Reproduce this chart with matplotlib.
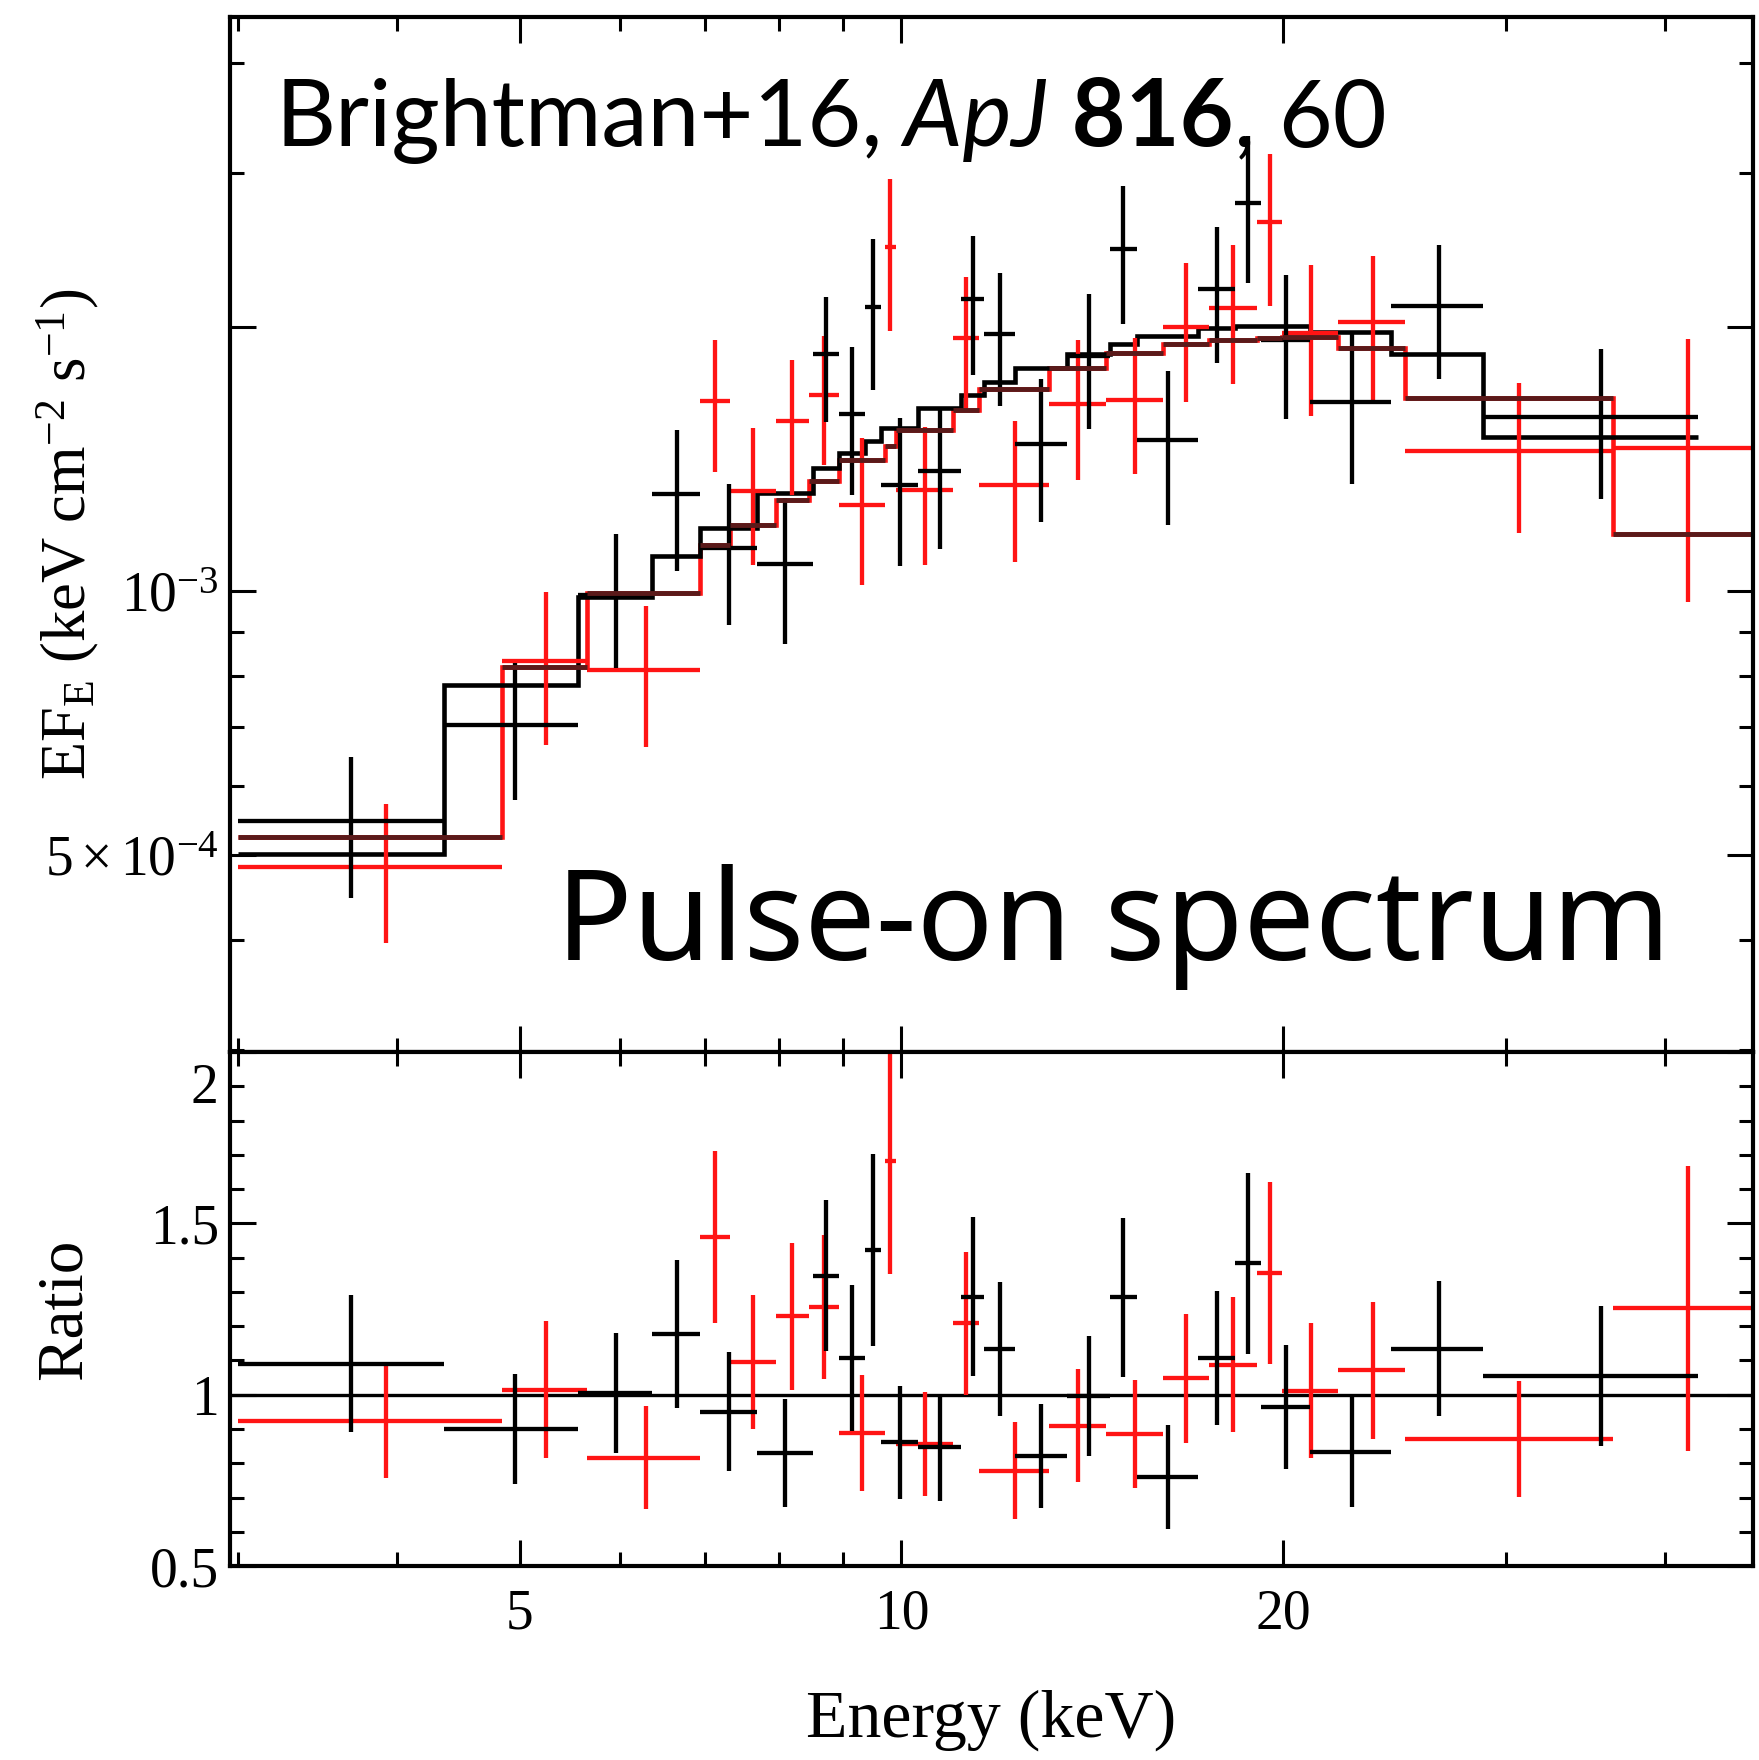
import numpy as np
import matplotlib
matplotlib.use('Agg')
import matplotlib.pyplot as plt
import matplotlib.transforms as mtransforms
from matplotlib.ticker import FixedLocator, FixedFormatter, NullFormatter, MultipleLocator

# black spectrum: bin edges (keV), model EF_E, data/model ratio and its error
black_edges = [3.0, 4.36, 5.56, 6.36, 6.94, 7.69, 8.51, 8.93, 9.36, 9.63, 10.31, 11.15, 11.62,
               12.29, 13.5, 14.6, 15.33, 17.13, 18.32, 19.2, 21.01, 24.34, 28.73, 42.5]
black_model = [5.02e-4, 7.82e-4, 9.85e-4, 1.098e-3, 1.18e-3, 1.295e-3, 1.382e-3, 1.438e-3,
               1.483e-3, 1.538e-3, 1.618e-3, 1.676e-3, 1.735e-3, 1.798e-3, 1.866e-3, 1.916e-3,
               1.958e-3, 1.997e-3, 2.006e-3, 2.006e-3, 1.974e-3, 1.866e-3, 1.50e-3]
black_ratio = [1.09, 0.90, 1.005, 1.177, 0.95, 0.83, 1.348, 1.108, 1.423, 0.861, 0.847, 1.286,
               1.134, 0.82, 0.995, 1.284, 0.76, 1.108, 1.384, 0.964, 0.833, 1.134, 1.054]
black_err = [0.20, 0.16, 0.175, 0.216, 0.174, 0.158, 0.22, 0.213, 0.28, 0.165, 0.156, 0.232,
             0.196, 0.152, 0.175, 0.231, 0.152, 0.196, 0.264, 0.18, 0.162, 0.197, 0.205]

# red spectrum
red_edges = [3.0, 4.843, 5.652, 6.934, 7.328, 7.959, 8.452, 8.93, 9.699, 9.909, 10.982, 11.522,
             13.068, 14.497, 16.069, 17.468, 19.058, 19.976, 22.102, 24.968, 36.38, 47.06]
red_model = [5.25e-4, 8.21e-4, 9.97e-4, 1.13e-3, 1.19e-3, 1.272e-3, 1.335e-3, 1.413e-3,
             1.467e-3, 1.526e-3, 1.611e-3, 1.701e-3, 1.80e-3, 1.869e-3, 1.913e-3, 1.934e-3,
             1.943e-3, 1.948e-3, 1.895e-3, 1.662e-3, 1.162e-3]
red_ratio = [0.923, 1.015, 0.816, 1.461, 1.095, 1.229, 1.255, 0.889, 1.682, 0.856, 1.208, 0.778,
             0.91, 0.885, 1.048, 1.088, 1.356, 1.012, 1.072, 0.871, 1.253]
red_err = [0.167, 0.2, 0.15, 0.251, 0.195, 0.215, 0.21, 0.17, 0.33, 0.153, 0.208, 0.142,
           0.165, 0.157, 0.189, 0.197, 0.266, 0.198, 0.2, 0.169, 0.416]

x_major = [5, 10, 20]
x_labels = ['5', '10', '20']
x_minor = [3, 4, 6, 7, 8, 9, 30, 40]

plt.rcParams['font.family'] = ['Liberation Serif', 'DejaVu Serif']
plt.rcParams['mathtext.fontset'] = 'custom'
plt.rcParams['mathtext.rm'] = 'Liberation Serif'
plt.rcParams['mathtext.it'] = 'Liberation Serif:italic'

RED = '#ff1414'
DARKRED = '#5a1a1a'


def crosses(ax, edges, y, yerr, color):
    e = np.array(edges)
    xc = (e[:-1] + e[1:]) / 2
    ax.errorbar(xc, y, xerr=[xc - e[:-1], e[1:] - xc], yerr=yerr, fmt='none',
                ecolor=color, elinewidth=3.1, capsize=0)


fig = plt.figure(figsize=(17.59, 17.60), dpi=100)
ax1 = fig.add_axes([0.1308, 0.4023, 0.8658, 0.5881])
ax2 = fig.add_axes([0.1308, 0.1102, 0.8658, 0.2920], sharex=ax1)

# --- spectrum panel
bm = np.array(black_model)
rm = np.array(red_model)
crosses(ax1, red_edges, np.array(red_ratio) * rm, np.array(red_err) * rm, RED)
crosses(ax1, black_edges, np.array(black_ratio) * bm, np.array(black_err) * bm, 'black')
ax1.stairs(rm, red_edges, baseline=None, color=RED, lw=3.3)
ax1.hlines(rm, red_edges[:-1], red_edges[1:], color=DARKRED, lw=3.5)
ax1.stairs(bm, black_edges, baseline=None, color='black', lw=3.3)

ax1.set_xscale('log')
ax1.set_yscale('log')
ax1.set_xlim(2.955, 46.95)
ax1.set_ylim(2.985e-4, 4.52e-3)
ax1.xaxis.set_major_locator(FixedLocator(x_major))
ax1.xaxis.set_major_formatter(FixedFormatter(x_labels))
ax1.xaxis.set_minor_locator(FixedLocator(x_minor))
ax1.xaxis.set_minor_formatter(NullFormatter())
ax1.yaxis.set_major_locator(FixedLocator([5e-4, 1e-3, 2e-3]))
ax1.yaxis.set_major_formatter(FixedFormatter([r'$5\times10^{-4}$', r'$10^{-3}$', '']))
ax1.yaxis.set_minor_locator(FixedLocator([3e-4, 4e-4, 6e-4, 7e-4, 8e-4, 9e-4, 3e-3, 4e-3]))
ax1.yaxis.set_minor_formatter(NullFormatter())
ax1.tick_params(labelbottom=False)
ax1.set_ylabel(r'EF$_{\rm E}$ (keV cm$^{-2}$ s$^{-1}$)', fontsize=45)
ax1.yaxis.set_label_coords(-0.085, 0.5)

# reference text
tfont = ['Lato', 'DejaVu Sans']
t1 = ax1.text(0.0295, 0.875, 'Brightman+16,', transform=ax1.transAxes, fontsize=67,
              family=tfont, va='baseline')
t2 = ax1.annotate(' ApJ', xy=(1, 0.875), xycoords=(t1, 'axes fraction'), fontsize=67,
                  family=tfont, style='italic', va='baseline')
t3 = ax1.annotate(' 816', xy=(1, 0.875), xycoords=(t2, 'axes fraction'), fontsize=67,
                  family=tfont, weight='bold', va='baseline')
ax1.annotate(', 60', xy=(1, 0.875), xycoords=(t3, 'axes fraction'), fontsize=67,
             family=tfont, va='baseline')
pulse = ax1.text(0.214, 0.089, 'Pulse-on spectrum', transform=ax1.transAxes, fontsize=100,
                 family=['Noto Sans', 'Lato', 'DejaVu Sans'], fontstretch='condensed',
                 weight='medium', va='baseline')
# shrink/grow the label so that it spans the same width as in the figure
fig.canvas.draw()
w = pulse.get_window_extent(fig.canvas.get_renderer()).width
pulse.set_fontsize(100 * 1115 / w)

# --- ratio panel
ax2.axhline(1, color='black', lw=2.4)
crosses(ax2, red_edges, red_ratio, red_err, RED)
crosses(ax2, black_edges, black_ratio, black_err, 'black')
ax2.set_ylim(0.5, 2.0)
ax2.yaxis.set_major_locator(FixedLocator([0.5, 1, 1.5, 2]))
ax2.yaxis.set_major_formatter(FixedFormatter(['0.5', '1', '1.5', '']))
ax2.yaxis.set_minor_locator(MultipleLocator(0.1))
ax2.text(-0.0075, 1.892, '2', transform=mtransforms.blended_transform_factory(ax2.transAxes, ax2.transData),
         ha='right', va='center', fontsize=40)
ax2.set_ylabel('Ratio', fontsize=47)
ax2.yaxis.set_label_coords(-0.089, 0.5)
ax2.set_xlabel('Energy (keV)', fontsize=49)
ax2.xaxis.set_label_coords(0.5, -0.24)

for ax in (ax1, ax2):
    for s in ax.spines.values():
        s.set_linewidth(3)
    ax.tick_params(which='both', direction='in', top=True, right=True, width=2.2, labelsize=40)
    ax.tick_params(which='major', length=19)
    ax.tick_params(which='minor', length=10)
    ax.tick_params(axis='y', pad=8)
    ax.tick_params(axis='x', pad=16)

fig.savefig('out.png', dpi=100)
